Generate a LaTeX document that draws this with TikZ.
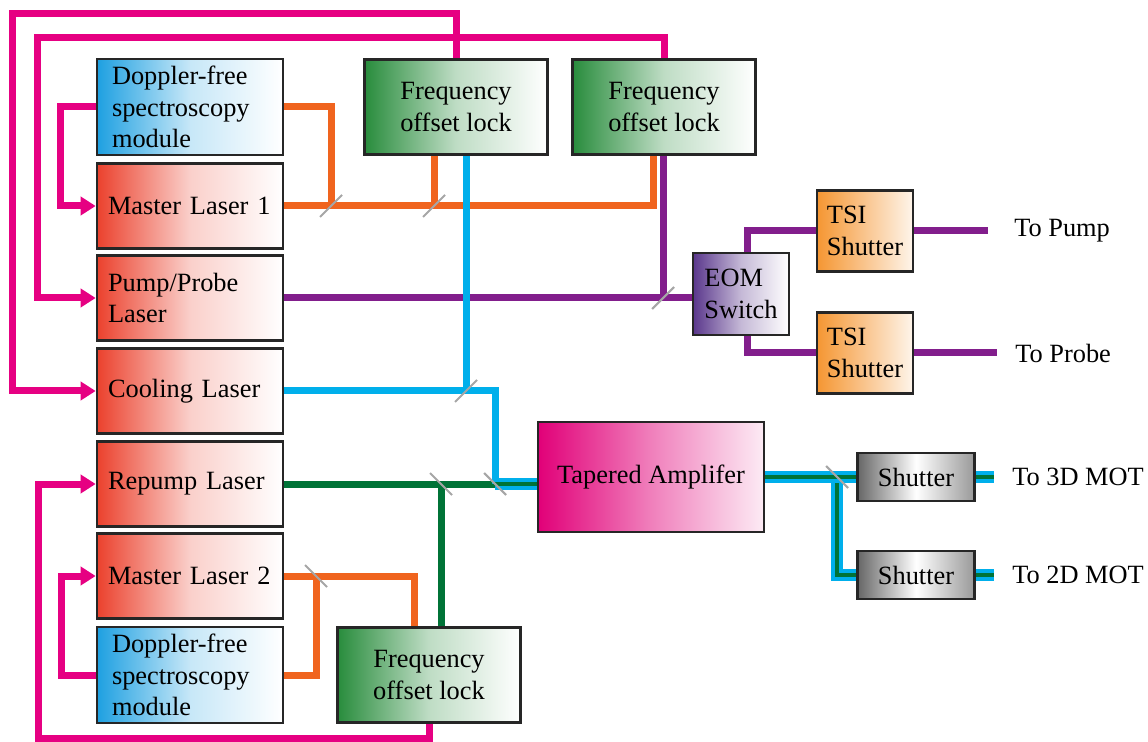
\documentclass[tikz,border=0pt]{standalone}
\usepackage{fontspec}
\setmainfont{Liberation Serif}
\usetikzlibrary{arrows.meta}

\definecolor{beampink}{RGB}{230,0,130}
\definecolor{beamorange}{RGB}{240,100,30}
\definecolor{beamblue}{RGB}{0,175,235}
\definecolor{beamgreen}{RGB}{0,115,55}
\definecolor{beampurple}{RGB}{130,30,140}
\definecolor{laserred}{RGB}{235,65,45}
\definecolor{specblue}{RGB}{30,160,225}
\definecolor{lockgreen}{RGB}{40,140,60}
\definecolor{eomviolet}{RGB}{90,55,140}
\definecolor{tsiorange}{RGB}{245,150,50}
\definecolor{ampmagenta}{RGB}{225,0,120}

\begin{document}
\begin{tikzpicture}[x=0.2mm, y=-0.2mm, font=\fontsize{15}{18}\selectfont,
        box/.style={draw=black!85, line width=1.5pt, inner sep=0pt},
        laser/.style={box, left color=laserred, right color=white, middle color=laserred!25,
            minimum width=37.2mm, minimum height=17mm, text width=32.8mm, align=left},
        spec/.style={box, left color=specblue, right color=white, middle color=specblue!25,
            minimum width=37.2mm, minimum height=19.2mm, text width=31.2mm, align=left},
        lock/.style={box, left color=lockgreen, right color=white, middle color=lockgreen!30,
            minimum width=36.6mm, minimum height=19mm, align=center},
        eombox/.style={box, left color=eomviolet, right color=white, middle color=eomviolet!35,
            minimum width=19.2mm, minimum height=16.4mm, align=left},
        tsi/.style={box, left color=tsiorange, right color=tsiorange!10, middle color=tsiorange!55,
            minimum width=19.2mm, minimum height=16.2mm, align=left},
        amp/.style={box, left color=ampmagenta, right color=ampmagenta!8, middle color=ampmagenta!50,
            minimum width=45.2mm, minimum height=22mm},
        shutter/.style={box, left color=black!60, right color=black!40, middle color=white,
            minimum width=23.4mm, minimum height=9.6mm},
        beam/.style={line width=1.4mm},
        feed/.style={beam, beampink, -{Triangle[length=3mm, width=3.6mm]}},
        dual/.style={line width=2.4mm, beamblue, postaction={draw=beamgreen, line width=0.8mm}},
        splitter/.style={draw=gray!70, line width=1.2pt},
        target/.style={anchor=west, inner sep=0pt}]
        \useasboundingbox (0,0) rectangle (1148,742);

        \node[spec] (dfsA) at (190,107) {Doppler-free\\spectroscopy\\module};
        \node[laser] (mlA) at (190,206) {Master Laser 1};
        \node[laser] (pump) at (190,298) {Pump/Probe\\Laser};
        \node[laser] (cool) at (190,391) {Cooling Laser};
        \node[laser] (repump) at (190,484) {Repump Laser};
        \node[laser] (mlB) at (190,576) {Master Laser 2};
        \node[spec] (dfsB) at (190,675) {Doppler-free\\spectroscopy\\module};

        \node[lock] (lockA) at (456,107) {Frequency\\offset lock};
        \node[lock] (lockB) at (664,107) {Frequency\\offset lock};
        \node[lock] (lockC) at (429,675) {Frequency\\offset lock};

        \node[eombox] (eom) at (741,294) {EOM\\Switch};
        \node[tsi] (tsiA) at (865,231) {TSI\\Shutter};
        \node[tsi] (tsiB) at (865,353) {TSI\\Shutter};

        \node[amp] (amp) at (651,477) {Tapered Amplifer};
        \node[shutter] (shA) at (916,477) {Shutter};
        \node[shutter] (shB) at (916,575) {Shutter};

        \node[target] (toPump) at (1014,231) {To Pump};
        \node[target] (toProbe) at (1015,353) {To Probe};
        \node[target] (toTop) at (1012,477) {To 3D MOT};
        \node[target] (toBottom) at (1012,575) {To 2D MOT};

        \coordinate (outerA) at (12,14);
        \coordinate (innerA) at (37,38);
        \coordinate (outerB) at (38,738);
        \coordinate (loopA) at (60,107);
        \coordinate (loopB) at (61,675);
        \coordinate (bsA) at (331,206);
        \coordinate (bsB) at (434,206);
        \coordinate (turnA) at (653,206);
        \coordinate (bsC) at (316,576);
        \coordinate (turnB) at (414,576);
        \coordinate (bsD) at (466,391);
        \coordinate (turnC) at (495,391);
        \coordinate (bsE) at (495,484);
        \coordinate (bsF) at (441,484);
        \coordinate (bsP) at (663,298);
        \coordinate (tapP) at (747,294);
        \coordinate (bsG) at (837,477);
        \coordinate (endP) at (988,231);
        \coordinate (endQ) at (997,353);
        \coordinate (endA) at (994,477);
        \coordinate (endB) at (994,575);

        \draw[feed] (lockA.north) |- (outerA) |- (cool.west);
        \draw[feed] (lockB.north) |- (innerA) |- (pump.west);
        \draw[feed] (lockC.south) |- (outerB) |- (repump.west);
        \draw[feed] (dfsA.west) -- (loopA) |- (mlA.west);
        \draw[feed] (dfsB.west) -- (loopB) |- (mlB.west);

        \draw[beam, beamorange] (dfsA.east) -| (bsA);
        \draw[beam, beamorange] (mlA.east) -- (turnA) -- (turnA |- lockB.south);
        \draw[beam, beamorange] (lockA.south -| bsB) -- (bsB);
        \draw[beam, beamorange] (mlB.east) -- (turnB) -- (turnB |- lockC.north);
        \draw[beam, beamorange] (dfsB.east) -| (bsC);

        \draw[beam, beampurple] (pump.east) -- (pump.east -| eom.west);
        \draw[beam, beampurple] (lockB.south -| bsP) -- (bsP);
        \draw[beam, beampurple] (eom.north -| tapP) |- (tsiA.west);
        \draw[beam, beampurple] (eom.south -| tapP) |- (tsiB.west);
        \draw[beam, beampurple] (tsiA.east) -- (endP);
        \draw[beam, beampurple] (tsiB.east) -- (endQ);

        \draw[beam, beamgreen] (repump.east) -- (bsE);
        \draw[beam, beamgreen] (lockC.north -| bsF) -- (bsF);

        \draw[beam, beamblue] (cool.east) -- (turnC) -- (bsE);
        \draw[beam, beamblue] (lockA.south -| bsD) -- (bsD);

        \draw[dual] (bsE) -- (bsE -| amp.west);
        \draw[dual] (bsG) |- (shB.west);
        \draw[dual] (amp.east) -- (shA.west);
        \draw[dual] (shA.east) -- (endA);
        \draw[dual] (shB.east) -- (endB);

        \draw[splitter] (bsA) ++(-11,11) -- ++(22,-22);
        \draw[splitter] (bsB) ++(-11,11) -- ++(22,-22);
        \draw[splitter] (bsC) ++(-11,-11) -- ++(22,22);
        \draw[splitter] (bsD) ++(-11,11) -- ++(22,-22);
        \draw[splitter] (bsE) ++(-11,-11) -- ++(22,22);
        \draw[splitter] (bsF) ++(-11,-11) -- ++(22,22);
        \draw[splitter] (bsP) ++(-11,11) -- ++(22,-22);
        \draw[splitter] (bsG) ++(-11,-11) -- ++(22,22);
\end{tikzpicture}
\end{document}
